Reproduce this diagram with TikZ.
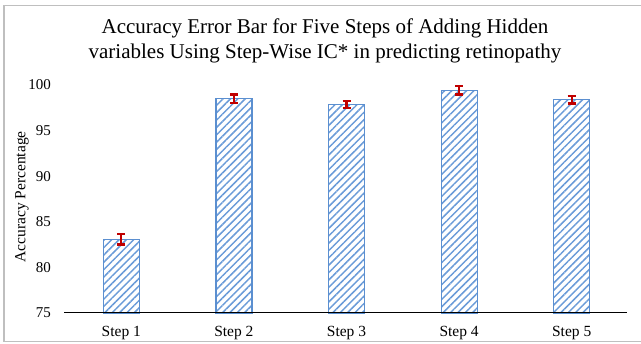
\documentclass[tikz,border=0pt]{standalone}
\usepackage{fontspec}
\setmainfont{Liberation Serif}
\usetikzlibrary{patterns.meta}
\definecolor{barblue}{HTML}{5B8FD0}
\definecolor{stripeblue}{HTML}{6A9BD8}
\definecolor{errred}{HTML}{C00000}
\definecolor{frame}{HTML}{BFBFBF}
\tikzset{
  ticklab/.style={anchor=east,font=\fontsize{15}{18}\selectfont,inner sep=0pt},
  catlab/.style={anchor=center,font=\fontsize{15.5}{18}\selectfont,inner sep=0pt},
  barbox/.style={draw=barblue,line width=1.2pt,pattern={Lines[angle=45,distance=5.2pt,line width=1.5pt]},pattern color=stripeblue},
  errbar/.style={draw=errred,line width=2.2pt},
}
\begin{document}
\begin{tikzpicture}[x=1pt,y=1pt]
\useasboundingbox (0,0) rectangle (641,344);
% frame
\draw[frame,line width=1.3pt] (4,2.3) -- (4,338.7) -- (645,338.7);
\draw[frame,line width=1.3pt] (4,2.3) -- (645,2.3);
% title
\node[align=center,font=\fontsize{21}{25}\selectfont,inner sep=0pt] (title) at (325,303.5) {Accuracy Error Bar for Five Steps of Adding Hidden\\variables Using Step-Wise IC* in predicting retinopathy};
% y label
\node[rotate=90,font=\fontsize{15.5}{18}\selectfont,inner sep=0pt] (ylab) at (22,147) {Accuracy Percentage};
% tick labels
\foreach \v/\n in {75/t75,80/t80,85/t85,90/t90,95/t95,100/t100}{
  \pgfmathsetmacro{\yy}{31+(\v-75)*9.12}
  \node[ticklab] (\n) at (51,\yy) {\v};
}
% bars
\foreach \i/\c/\val/\e in {1/121.3/83.1/0.6, 2/233.9/98.5/0.45, 3/346.5/97.9/0.38, 4/459.1/99.4/0.45, 5/571.7/98.4/0.42}{
  \pgfmathsetmacro{\yt}{31+(\val-75)*9.12}
  \pgfmathsetmacro{\ya}{31+(\val+\e-75)*9.12}
  \pgfmathsetmacro{\yb}{31+(\val-\e-75)*9.12}
  \filldraw[barbox] (\c-18,31) rectangle (\c+18,\yt);
  \draw[errbar] (\c,\ya) -- (\c,\yb);
  \draw[errbar] (\c-4,\ya) -- (\c+4,\ya);
  \draw[errbar] (\c-4,\yb) -- (\c+4,\yb);
  \node[catlab] (s\i) at (\c,11) {Step \i};
}
% axis
\draw[black,line width=1pt] (64,31) -- (627,31);
\end{tikzpicture}
\end{document}
